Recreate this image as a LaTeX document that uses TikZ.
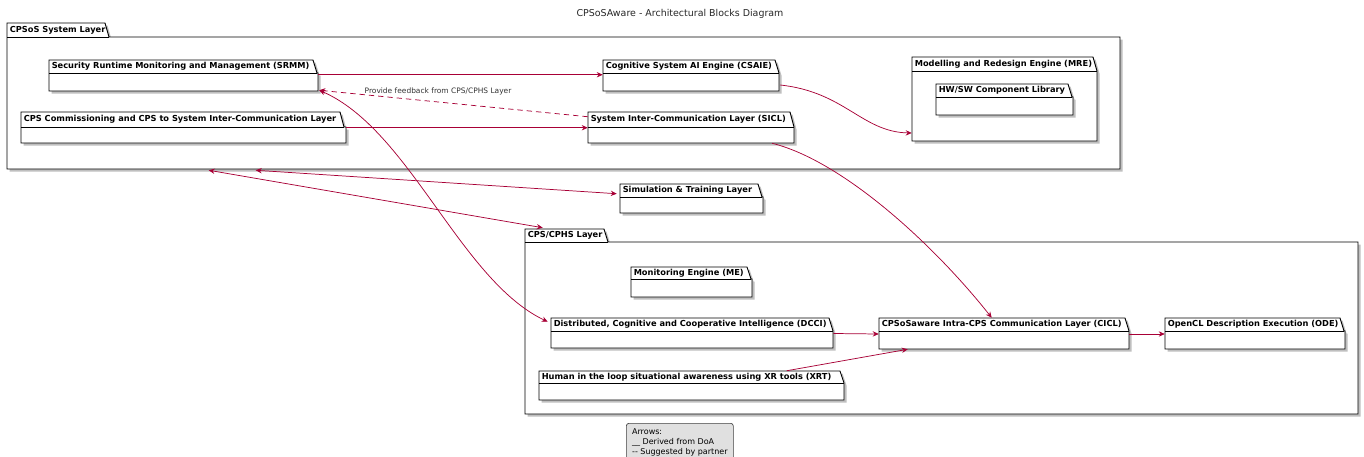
\documentclass[tikz,border=0pt]{standalone}
\usepackage{fontspec}
\setmainfont{DejaVu Sans}
\usetikzlibrary{arrows.meta,fit,calc}
\definecolor{arr}{HTML}{A80036}
\tikzset{
  pkgline/.style={draw=black, line width=0.7pt, fill=white, line join=miter},
  pkgshadow/.style={fill=black!25},
  pkglabel/.style={font=\bfseries\fontsize{6.2}{7}\selectfont, inner sep=0pt},
  conn/.style={draw=arr, line width=0.55pt},
  tip/.style={-{Stealth[length=4.5pt,width=4pt,inset=1.5pt]}},
  bitip/.style={{Stealth[length=4.5pt,width=4pt,inset=1.5pt]}-{Stealth[length=4.5pt,width=4pt,inset=1.5pt]}},
  edgelabel/.style={font=\fontsize{5.6}{7}\selectfont, text=black!80, inner sep=0pt},
  legendbox/.style={draw=black!75, fill=black!12, rounded corners=2pt, line width=0.5pt,
    font=\fontsize{6}{7.3}\selectfont, align=left, inner xsep=2pt, inner ysep=1pt, anchor=north west},
}
% #1 name, #2 x1, #3 ytab, #4 xtabr, #5 ybody, #6 xr, #7 ybot, #8 label
\newcommand\pkgbox[8]{%
  \fill[pkgshadow] (#2+2.5,#3+2.5) -- (#4+2.5,#3+2.5) -- ({min(#4+4,#6)+2.5},#5+2.5) -- (#6+2.5,#5+2.5) -- (#6+2.5,#7+2.5) -- (#2+2.5,#7+2.5) -- cycle;
  \filldraw[pkgline] (#2,#3) -- (#4,#3) -- ({min(#4+4,#6)},#5) -- (#6,#5) -- (#6,#7) -- (#2,#7) -- cycle;
  \draw[pkgline] (#2,#5) -- ({min(#4+4,#6)},#5);
  \node[pkglabel, anchor=west] (#1-label) at (#2+2.5,{(#3+#5)/2}) {#8};
  \node[inner sep=0pt, fit={(#2,#5)(#6,#7)}] (#1) {};
}
\begin{document}
\begin{tikzpicture}[x=0.75pt,y=-0.75pt]
\useasboundingbox (0,0) rectangle (1364,457);
\clip (0,0) rectangle (1364,457);

\node[font=\fontsize{7.1}{8}\selectfont, text=black!85] (title) at (680,14) {CPSoSAware - Architectural Blocks Diagram};

% CPSoS System Layer
\pkgbox{cpsos}{7}{23}{105}{37}{1120}{169}{CPSoS System Layer}
\pkgbox{srmm}{49}{60}{313}{73}{318}{91}{Security Runtime Monitoring and Management (SRMM)}
\pkgbox{comm}{21}{112}{340}{127}{346}{143}{CPS Commissioning and CPS to System Inter-Communication Layer}
\pkgbox{csaie}{603}{60}{775}{73}{779}{91}{Cognitive System AI Engine (CSAIE)}
\pkgbox{sicl}{588}{112}{790}{127}{794}{143}{System Inter-Communication Layer (SICL)}
\pkgbox{mre}{912}{57}{1093}{71}{1097}{141}{Modelling and Redesign Engine (MRE)}
\pkgbox{hwsw}{936}{84}{1068}{97}{1073}{115}{HW/SW Component Library}

% Simulation
\pkgbox{sim}{620}{184}{758}{197}{763}{213}{Simulation \& Training Layer}

% CPS/CPHS Layer
\pkgbox{cpscphs}{525}{229}{604}{242}{1358}{414}{CPS/CPHS Layer}
\pkgbox{me}{631}{267}{747}{279}{752}{297}{Monitoring Engine (ME)}
\pkgbox{dcci}{551}{318}{829}{331}{833}{348}{Distributed, Cognitive and Cooperative Intelligence (DCCI)}
\pkgbox{xrt}{539}{371}{840}{383}{844}{400}{Human in the loop situational awareness using XR tools (XRT)}
\pkgbox{cicl}{879}{318}{1125}{331}{1129}{349}{CPSoSaware Intra-CPS Communication Layer (CICL)}
\pkgbox{ode}{1165}{318}{1340}{331}{1345}{349}{OpenCL Description Execution (ODE)}

% connectors
\draw[conn,tip] ($(srmm.north east)+(0,2)$) -- ($(csaie.north west)+(0,2)$);
\draw[conn,tip] ($(comm.north east)+(0,1)$) -- ($(sicl.north west)+(0,1)$);
\draw[conn,tip,dash pattern=on 4pt off 3pt] ($(sicl.north west)+(0,-10)$) -- ($(srmm.south east)+(1,-1)$);
\node[edgelabel] (fb) at (438,91) {Provide feedback from CPS/CPHS Layer};
\draw[conn,bitip] ($(srmm.south east)+(1,-1)$) .. controls (410,130) and (460,280) .. ($(dcci.north west)+(-3,-9)$);
\draw[conn,bitip] ($(cpsos.south west)+(249,1)$) -- ($(sim.north west)+(-3,-3)$);
\draw[conn,bitip] ($(cpsos.south west)+(202,1)$) -- ($(cpscphs.north west)+(18,-14)$);
\draw[conn,tip] ($(csaie.east)+(1,3)$) .. controls (845,92) and (862,132) .. ($(mre.west)+(0,27)$);
\draw[conn,tip] ($(sicl.south)+(81,0)$) .. controls (840,160) and (930,240) .. ($(cicl.north west)+(113,-13)$);
\draw[conn,tip] ($(dcci.east)+(0,-6)$) -- ($(cicl.west)+(0,-6)$);
\draw[conn,tip] ($(xrt.north west)+(248,-12)$) -- ($(cicl.south west)+(29,0)$);
\draw[conn,tip] ($(cicl.east)+(0,-6)$) -- ($(ode.west)+(0,-6)$);

% legend
\node[legendbox, minimum width=107*0.75pt, minimum height=38*0.75pt] (legend) at (626,423) {Arrows:\\\_\_ Derived from DoA\\-{}- Suggested by partner};
\end{tikzpicture}
\end{document}
